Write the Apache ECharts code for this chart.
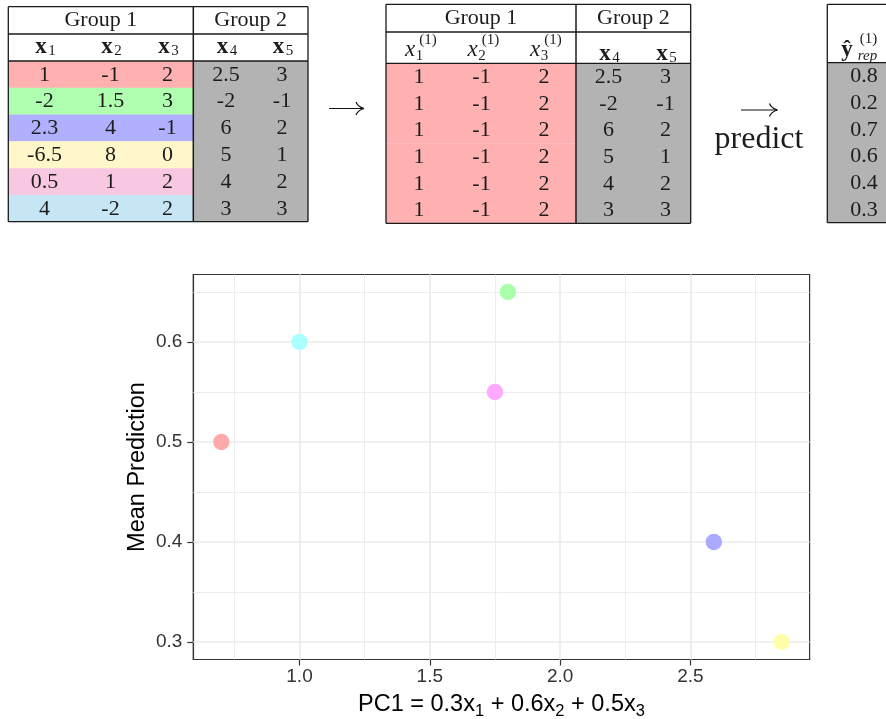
<!DOCTYPE html>
<html>
<head>
<meta charset="utf-8">
<script src="https://cdn.jsdelivr.net/npm/echarts@6/dist/echarts.min.js"></script>
<style>
  html, body { margin: 0; padding: 0; background: #ffffff; }
  #chart { width: 886px; height: 719px; }
</style>
</head>
<body>
<div id="chart"></div>
<script>
// ---- data -------------------------------------------------------------
const groupNames = ['Group 1', 'Group 2'];
const featureIndex = ['1', '2', '3', '4', '5'];
// original feature values, one entry per observation
const x1 = [1, -2, 2.3, -6.5, 0.5, 4];
const x2 = [-1, 1.5, 4, 8, 1, -2];
const x3 = [2, 3, -1, 0, 2, 2];
const x4 = [2.5, -2, 6, 5, 4, 3];
const x5 = [3, -1, 2, 1, 2, 3];
// Group 1 values of observation 1, copied into every row
const group1Replacement = [1, -1, 2];
const predictions = [0.8, 0.2, 0.7, 0.6, 0.4, 0.3];
// scatter: first principal component of Group 1 vs mean prediction
const pc1 = [0.7, 1.8, 2.59, 2.85, 1.75, 1.0];
const meanPrediction = [0.5, 0.65, 0.4, 0.3, 0.55, 0.6];
const xTicks = [1.0, 1.5, 2.0, 2.5];
const yTicks = [0.3, 0.4, 0.5, 0.6];

// ---- styles -----------------------------------------------------------
const rowFills = ['#FFB0B0', '#B0FFB0', '#B0B0FF', '#FFF7CA', '#F8C7E1', '#C7E6F5'];
const pointColors = ['#FFAAAA', '#AAFFAA', '#AAAAFF', '#FFFFAA', '#FFAAFF', '#AAFFFF'];
const GRAY = '#B3B3B3';
const SERIF = '"Liberation Serif", "Times New Roman", serif';
const SANS = '"Liberation Sans", Arial, Helvetica, sans-serif';
const INK = '#1c1c1c';
const RULE = '#1a1a1a';
const CELL_FONT = 22;
const SUB_FONT = 15;

// ---- drawing helpers for the tables -------------------------------------
function label(x, y, text, size, opt) {
  opt = opt || {};
  return {
    type: 'text', x: x, y: y, silent: true,
    style: {
      text: text, fontFamily: opt.family || SERIF, fontSize: size,
      fontWeight: opt.weight || 'normal', fontStyle: opt.style || 'normal',
      fill: opt.fill || INK, align: opt.align || 'center', verticalAlign: 'middle'
    }
  };
}
function hline(xa, xb, y, w) {
  return { type: 'line', silent: true, shape: { x1: xa, y1: y, x2: xb, y2: y },
           style: { stroke: RULE, lineWidth: w || 1.3 } };
}
function vline(x, ya, yb, w) {
  return { type: 'line', silent: true, shape: { x1: x, y1: ya, x2: x, y2: yb },
           style: { stroke: RULE, lineWidth: w || 1.3 } };
}
function box(x, y, w, h, fill) {
  return { type: 'rect', silent: true, shape: { x: x, y: y, width: w, height: h },
           style: { fill: fill } };
}
// bold vector symbol with a subscript, e.g. x_4
function boldSub(cx, cy, sym, sub) {
  return [
    label(cx - 3.5, cy, sym, CELL_FONT + 1, { weight: 'bold' }),
    label(cx + 7.5, cy + 4, sub, SUB_FONT)
  ];
}
// italic symbol with subscript and superscript, e.g. x_1^(1)
function italicSubSup(cx, cy, sym, sub, sup) {
  return [
    label(cx - 9, cy, sym, CELL_FONT + 1, { style: 'italic' }),
    label(cx + 0.5, cy + 6, sub, SUB_FONT),
    label(cx + 9, cy - 10, sup, SUB_FONT)
  ];
}

function drawTable(L, rows, fills) {
  const els = [];
  const rowH = (L.bottom - L.bodyTop) / rows.length;
  // row shading of the first group, gray block for the rest
  if (L.split > L.left) {
    rows.forEach(function (row, r) {
      els.push(box(L.left, L.bodyTop + r * rowH, L.split - L.left, rowH + 0.3, fills[r]));
    });
  }
  els.push(box(L.split, L.bodyTop, L.right - L.split, L.bottom - L.bodyTop, GRAY));
  rows.forEach(function (row, r) {
    row.forEach(function (v, c) {
      els.push(label(L.colX[c], L.bodyTop + (r + 0.5) * rowH + 0.5, String(v), CELL_FONT));
    });
  });
  // rules
  els.push(hline(L.left, L.right, L.top));
  els.push(hline(L.left, L.right, L.bottom));
  els.push(hline(L.left, L.right, L.bodyTop));
  if (L.groupLine) els.push(hline(L.left, L.right, L.groupLine));
  els.push(vline(L.left, L.top, L.bottom));
  els.push(vline(L.right, L.top, L.bottom));
  if (L.split > L.left) els.push(vline(L.split, L.top, L.bottom, 1.5));
  return els;
}

function arrow(xa, xb, y) {
  return [
    { type: 'line', silent: true, shape: { x1: xa, y1: y, x2: xb - 0.5, y2: y },
      style: { stroke: '#111', lineWidth: 1.2 } },
    { type: 'bezierCurve', silent: true,
      shape: { x1: xb - 8, y1: y - 6.5, cpx1: xb - 6.5, cpy1: y - 2, x2: xb, y2: y },
      style: { stroke: '#111', lineWidth: 1.2, fill: null } },
    { type: 'bezierCurve', silent: true,
      shape: { x1: xb - 8, y1: y + 6.5, cpx1: xb - 6.5, cpy1: y + 2, x2: xb, y2: y },
      style: { stroke: '#111', lineWidth: 1.2, fill: null } }
  ];
}

// ---- table contents -----------------------------------------------------
const originalRows = x1.map(function (_, i) { return [x1[i], x2[i], x3[i], x4[i], x5[i]]; });
const replacedRows = x1.map(function (_, i) { return group1Replacement.concat([x4[i], x5[i]]); });
const predictionRows = predictions.map(function (p) { return [p.toFixed(1)]; });

const T1 = { left: 8.3, right: 308, split: 193.3, top: 6.7, groupLine: 34, bodyTop: 61, bottom: 221.7,
             colX: [44.5, 110.5, 167.5, 226, 282] };
const T2 = { left: 386, right: 690.7, split: 576, top: 4.3, groupLine: 32, bodyTop: 63.3, bottom: 223.3,
             colX: [419, 481.5, 544, 608.5, 665.5] };
const T3 = { left: 827.3, right: 905, split: 827.3, top: 4.3, bodyTop: 62.7, bottom: 222.7,
             colX: [864] };

let graphics = [];
graphics = graphics.concat(drawTable(T1, originalRows, rowFills));
graphics.push(label((T1.left + T1.split) / 2, 19.8, groupNames[0], CELL_FONT));
graphics.push(label((T1.split + T1.right) / 2, 19.8, groupNames[1], CELL_FONT));
featureIndex.forEach(function (k, c) {
  graphics = graphics.concat(boldSub(T1.colX[c], 47.5, 'x', k));
});

graphics = graphics.concat(drawTable(T2, replacedRows, rowFills.map(function () { return rowFills[0]; })));
graphics.push(label((T2.left + T2.split) / 2, 18.2, groupNames[0], CELL_FONT));
graphics.push(label((T2.split + T2.right) / 2, 18.2, groupNames[1], CELL_FONT));
featureIndex.forEach(function (k, c) {
  if (c < 3) graphics = graphics.concat(italicSubSup(T2.colX[c], 50, 'x', k, '(1)'));
  else graphics = graphics.concat(boldSub(T2.colX[c], 54, 'x', k));
});

graphics = graphics.concat(drawTable(T3, predictionRows, []));
graphics.push(label(847, 50, '\u0177', CELL_FONT + 1, { weight: 'bold' }));
graphics.push(label(867.5, 56, 'rep', SUB_FONT, { style: 'italic' }));
graphics.push(label(868.5, 39, '(1)', SUB_FONT));

graphics = graphics.concat(arrow(329, 364, 108.5));
graphics = graphics.concat(arrow(741, 777.5, 110));
graphics.push(label(759, 140, 'predict', 32));

// ---- scatter panel ------------------------------------------------------
const xPad = 0.05 * (Math.max.apply(null, pc1) - Math.min.apply(null, pc1));
const yPad = 0.05 * (Math.max.apply(null, meanPrediction) - Math.min.apply(null, meanPrediction));
const xMin = Math.min.apply(null, pc1) - xPad, xMax = Math.max.apply(null, pc1) + xPad;
const yMin = Math.min.apply(null, meanPrediction) - yPad, yMax = Math.max.apply(null, meanPrediction) + yPad;

// minor grid lines sit halfway between major ticks
function minorOf(ticks, lo, hi) {
  const step = ticks[1] - ticks[0];
  const out = [];
  for (let v = ticks[0] - step / 2; v <= hi + 1e-9; v += step) {
    if (v >= lo) out.push(+v.toFixed(4));
  }
  return out;
}
const gridColor = '#EBEBEB';
const gridLines = []
  .concat(minorOf(xTicks, xMin, xMax).map(function (v) { return { xAxis: v, lineStyle: { width: 0.9 } }; }))
  .concat(minorOf(yTicks, yMin, yMax).map(function (v) { return { yAxis: v, lineStyle: { width: 0.9 } }; }))
  .concat(xTicks.map(function (v) { return { xAxis: v, lineStyle: { width: 1.7 } }; }))
  .concat(yTicks.map(function (v) { return { yAxis: v, lineStyle: { width: 1.7 } }; }));

const axisText = { fontFamily: SANS, fontSize: 19, color: '#333333' };
const tickStyle = { show: true, length: 6, lineStyle: { color: '#333333', width: 1.2 } };
const frameLine = { show: true, lineStyle: { color: '#333333', width: 1.2 } };

const option = {
  animation: false,
  backgroundColor: '#ffffff',
  graphic: { elements: graphics },
  grid: {
    left: 193.3, right: 76.4, top: 274.5, bottom: 59.5,
    outerBoundsMode: 'none', containLabel: false,
    show: true, borderColor: '#333333', borderWidth: 1.2, backgroundColor: '#ffffff'
  },
  xAxis: {
    type: 'value', min: xMin, max: xMax,
    splitLine: { show: false },
    axisLine: frameLine,
    axisTick: Object.assign({ customValues: xTicks }, tickStyle),
    axisLabel: Object.assign({ customValues: xTicks, margin: 8,
      formatter: function (v) { return v.toFixed(1); } }, axisText),
    name: '{n|PC1 = 0.3x}{s|1}{n| + 0.6x}{s|2}{n| + 0.5x}{s|3}',
    nameLocation: 'middle', nameGap: 30,
    nameTextStyle: {
      rich: {
        n: { fontFamily: SANS, fontSize: 23.5, color: '#000000' },
        s: { fontFamily: SANS, fontSize: 16.5, color: '#000000', padding: [13, 0, 0, 0] }
      }
    }
  },
  yAxis: {
    type: 'value', min: yMin, max: yMax,
    splitLine: { show: false },
    axisLine: frameLine,
    axisTick: Object.assign({ customValues: yTicks }, tickStyle),
    axisLabel: Object.assign({ customValues: yTicks, margin: 11,
      formatter: function (v) { return v.toFixed(1); } }, axisText),
    name: 'Mean Prediction', nameLocation: 'middle', nameGap: 44, nameMoveOverlap: false,
    nameTextStyle: { fontFamily: SANS, fontSize: 23.5, color: '#000000' }
  },
  series: [{
    type: 'scatter',
    z: 10,
    symbol: 'circle',
    symbolSize: 16.5,
    emphasis: { disabled: true },
    data: pc1.map(function (v, i) {
      return { value: [v, meanPrediction[i]], itemStyle: { color: pointColors[i], opacity: 1 } };
    }),
    markLine: {
      silent: true, symbol: ['none', 'none'], label: { show: false }, animation: false,
      emphasis: { disabled: true },
      lineStyle: { color: gridColor, type: 'solid' },
      data: gridLines
    }
  }]
};

const chart = echarts.init(document.getElementById('chart'), null, { renderer: 'canvas' });
chart.setOption(option);
</script>
</body>
</html>
